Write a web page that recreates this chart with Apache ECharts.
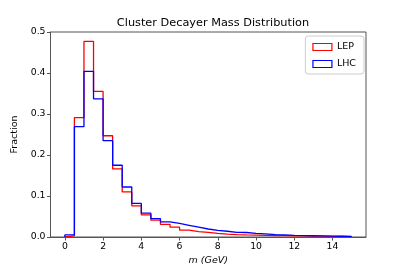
<!DOCTYPE html>
<html><head><meta charset="utf-8">
<script src="https://cdn.jsdelivr.net/npm/echarts@6/dist/echarts.min.js"></script>
<style>html,body{margin:0;padding:0;background:#fff}#c{width:407px;height:271px}</style>
</head><body><div id="c"></div>
<script>
const binEdges = [0,0.5,1,1.5,2,2.5,3,3.5,4,4.5,5,5.5,6,6.5,7,7.5,8,8.5,9,9.5,10,10.5,11,11.5,12,12.5,13,13.5,14,14.5,15];
const lepValues = [0.003,0.291,0.477,0.355,0.247,0.166,0.110,0.076,0.054,0.041,0.031,0.024,0.017,0.013,0.0115,0.009,0.0068,0.0058,0.005,0.0045,0.004,0.0037,0.0033,0.003,0.0026,0.0022,0.0019,0.0016,0.0013,0.001];
const lhcValues = [0.005,0.269,0.404,0.337,0.235,0.175,0.122,0.082,0.058,0.045,0.037,0.033,0.0285,0.024,0.0195,0.016,0.014,0.0115,0.011,0.009,0.0075,0.006,0.005,0.004,0.0034,0.003,0.0026,0.0022,0.0018,0.0014];
const xTickValues = [0,2,4,6,8,10,12,14];
const yTickLabels = ['0.0','0.1','0.2','0.3','0.4','0.5'];

function stepPoints(vals){
  const pts = [[binEdges[0], 0]];
  for (let i = 0; i < vals.length; i++) {
    pts.push([binEdges[i], vals[i]]);
    pts.push([binEdges[i+1], vals[i]]);
  }
  pts.push([binEdges[binEdges.length-1], 0]);
  return pts;
}

const chart = echarts.init(document.getElementById('c'), null, {renderer:'canvas'});
const font = 'DejaVu Sans';
chart.setOption({
  animation:false,
  backgroundColor:'#fff',
  title:{text:'Cluster Decayer Mass Distribution', left:208, top:13, textAlign:'center',
    textStyle:{fontFamily:font, fontSize:11.3, fontWeight:'normal', color:'#000'}},
  grid:{left:50.5, right:41, top:32, bottom:34, show:true, borderColor:'#555', borderWidth:1, backgroundColor:'transparent'},
  legend:{right:43, top:36, orient:'vertical', itemWidth:19, itemHeight:7, itemGap:7,
    padding:[6,8,5,7], backgroundColor:'#fff', borderColor:'#ccc', borderWidth:1, borderRadius:3,
    textStyle:{fontFamily:font, fontSize:9.5, color:'#000'},
    data:[
      {name:'LEP', icon:'rect', itemStyle:{color:'#fff', borderColor:'#ff0000', borderWidth:1.2}},
      {name:'LHC', icon:'rect', itemStyle:{color:'#fff', borderColor:'#0000ff', borderWidth:1.2}}
    ]},
  xAxis:{type:'value', min:-0.75, max:15.75,
    name:'m (GeV)', nameLocation:'middle', nameGap:17,
    nameTextStyle:{fontFamily:font, fontSize:9.5, fontStyle:'italic', color:'#000'},
    axisLine:{show:true, onZero:false, lineStyle:{color:'#555', width:1}},
    axisTick:{show:true, length:3.5, customValues:xTickValues, lineStyle:{color:'#555'}},
    axisLabel:{customValues:xTickValues, fontFamily:font, fontSize:9.3, color:'#000', margin:5},
    splitLine:{show:false}},
  yAxis:{type:'value', min:0, max:0.5, interval:0.1,
    name:'Fraction', nameLocation:'middle', nameGap:23, nameRotate:90,
    nameTextStyle:{fontFamily:font, fontSize:9.5, color:'#000'},
    axisLine:{show:true, onZero:false, lineStyle:{color:'#555', width:1}},
    axisTick:{show:true, length:3.5, lineStyle:{color:'#555'}},
    axisLabel:{fontFamily:font, fontSize:9.3, color:'#000', margin:5,
      formatter:(v)=>yTickLabels[Math.round(v*10)]},
    splitLine:{show:false}},
  series:[
    {name:'LEP', type:'line', data:stepPoints(lepValues), showSymbol:false, symbol:'none',
      lineStyle:{color:'#ff0000', width:1.3}, itemStyle:{color:'#ff0000'}},
    {name:'LHC', type:'line', data:stepPoints(lhcValues), showSymbol:false, symbol:'none',
      lineStyle:{color:'#0000ff', width:1.3}, itemStyle:{color:'#0000ff'}}
  ]
});
</script></body></html>
